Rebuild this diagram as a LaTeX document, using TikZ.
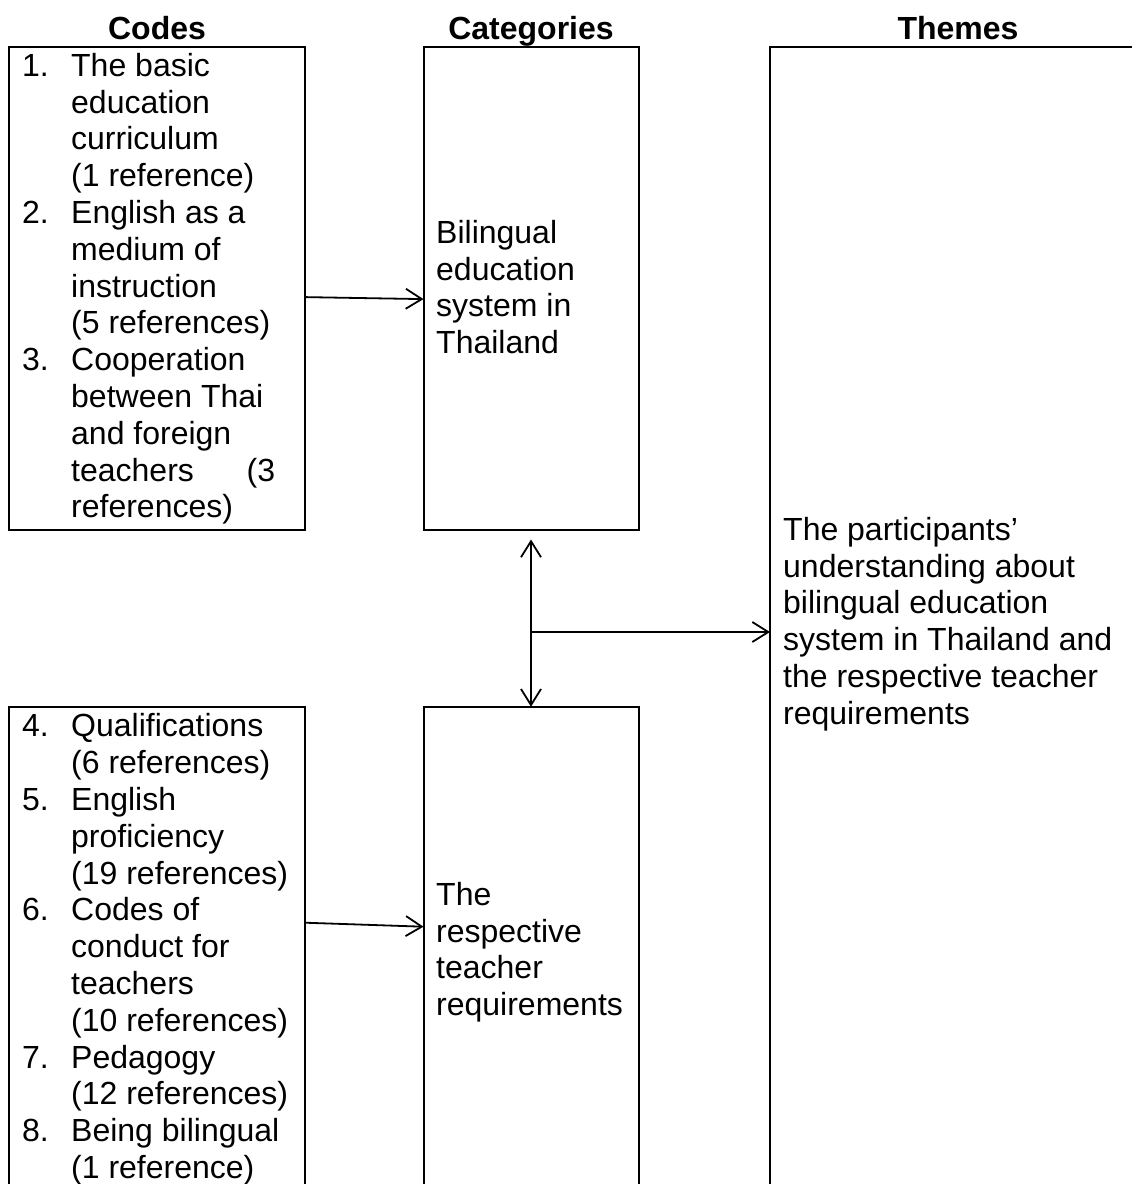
\documentclass[tikz,border=0pt]{standalone}
\usepackage{fontspec}
\setmainfont{Liberation Sans}
\usetikzlibrary{arrows.meta}
\newcommand{\codenum}[1]{\makebox[49pt][l]{#1}}
\newcommand{\ind}{\hspace*{49pt}}
\newcommand{\topstrut}{\rule{0pt}{30pt}}
\tikzset{
  box/.style={draw, line width=2pt, anchor=north west, inner sep=0pt, outer sep=0pt},
  txt/.style={anchor=north west, align=left, inner sep=0pt, font=\fontsize{32}{36.8}\selectfont},
  head/.style={anchor=base, inner sep=0pt, font=\fontsize{32}{36.8}\selectfont\bfseries},
  conn/.style={line width=1.8pt, -{Straight Barb[length=16pt,width=20pt]}}
}
\begin{document}
\begin{tikzpicture}[x=1pt,y=-1pt]
                \useasboundingbox (0,0) rectangle (1132,1184);
                \node [head] (hcodes) at (157,39) {Codes};
                \node [head] (hcat) at (531,39) {Categories};
                \node [head] (hthemes) at (958,39) {Themes};
                \node [box, minimum width=296.5pt, minimum height=482.8pt] (codesA) at (8.5,46.7) {};
                \node [box, minimum width=215pt, minimum height=482.8pt] (catA) at (423.5,46.7) {};
                \node [box, minimum width=380pt, minimum height=1170.6pt] (themes) at (770,46.7) {};
                \node [box, minimum width=296.5pt, minimum height=500pt] (codesB) at (8.5,706.7) {};
                \node [box, minimum width=215pt, minimum height=500pt] (catB) at (423.5,706.7) {};
                \node [txt] (codesAtxt) at (22,46) {\topstrut\codenum{1.}The basic\\
                  \ind education\\
                  \ind curriculum\\
                  \ind (1 reference)\\
                  \codenum{2.}English as a\\
                  \ind medium of\\
                  \ind instruction\\
                  \ind (5 references)\\
                  \codenum{3.}Cooperation\\
                  \ind between Thai\\
                  \ind and foreign\\
                  \ind \makebox[204pt][l]{teachers\hfill(3}\\
                  \ind references)};
                \node [txt] (codesBtxt) at (22,706.7) {\topstrut\codenum{4.}Qualifications\\
                  \ind (6 references)\\
                  \codenum{5.}English\\
                  \ind proficiency\\
                  \ind (19 references)\\
                  \codenum{6.}Codes of\\
                  \ind conduct for\\
                  \ind teachers\\
                  \ind (10 references)\\
                  \codenum{7.}Pedagogy\\
                  \ind (12 references)\\
                  \codenum{8.}Being bilingual\\
                  \ind (1 reference)};
                \node [txt] (catAtxt) at (436,213) {\topstrut Bilingual\\education\\system in\\Thailand};
                \node [txt] (catBtxt) at (436,875) {\topstrut The\\respective\\teacher\\requirements};
                \node [txt] (themestxt) at (783,510) {\topstrut The participants’\\understanding about\\bilingual education\\system in Thailand and\\the respective teacher\\requirements};
                \draw [conn] ([yshift=-9pt]codesA.east) -- ([yshift=-11pt]catA.west);
                \draw [conn] ([yshift=34pt]codesB.east) -- ([yshift=30pt]catB.west);
                \draw [conn, {Straight Barb[length=16pt,width=20pt]}-{Straight Barb[length=16pt,width=20pt]}] ([yshift=-10pt]catA.south) -- (catB.north);
                \draw [conn] (catA.south |- themes.west) -- (themes.west);
\end{tikzpicture}
\end{document}
